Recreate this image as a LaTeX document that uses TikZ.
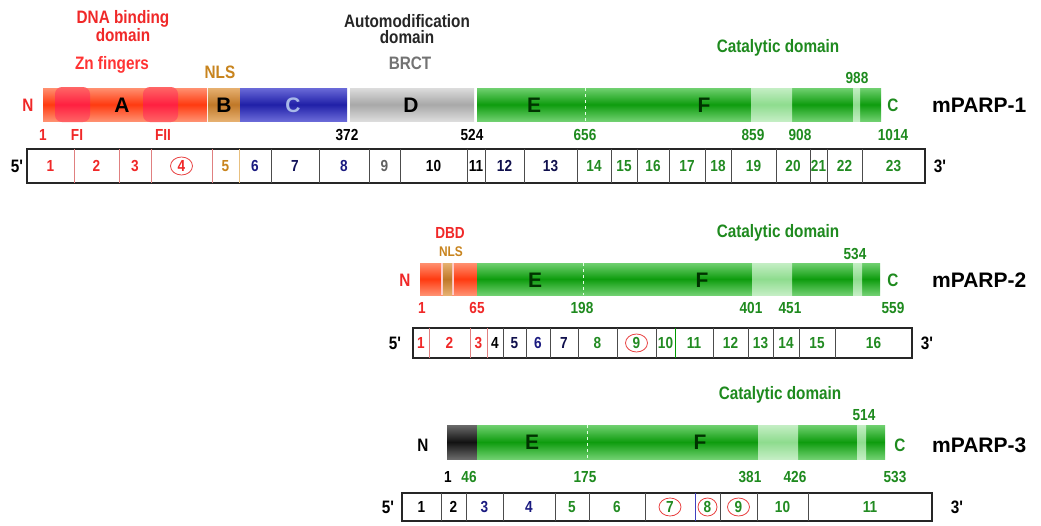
\documentclass[tikz,border=0pt]{standalone}
\usepackage{fontspec}
\setmainfont{Liberation Sans}
\newfontfamily\cond[FakeStretch=0.85]{Liberation Sans}
\usetikzlibrary{shapes.geometric}
\definecolor{gmid}{HTML}{0E9C0E}
\definecolor{gedge}{HTML}{70D070}
\definecolor{glmid}{HTML}{8EDC8E}
\definecolor{gledge}{HTML}{C4EEC4}
\definecolor{rmid}{HTML}{FF3A10}
\definecolor{redge}{HTML}{FF9070}
\definecolor{blobc}{HTML}{FF2040}
\definecolor{omid}{HTML}{C07828}
\definecolor{oedge}{HTML}{E6B070}
\definecolor{bmid}{HTML}{2020A8}
\definecolor{bedge}{HTML}{6A6AD8}
\definecolor{gymid}{HTML}{A8A8A8}
\definecolor{gyedge}{HTML}{DCDCDC}
\definecolor{kmid}{HTML}{121212}
\definecolor{kedge}{HTML}{6A6A6A}
\definecolor{numg}{HTML}{1E8A1E}
\definecolor{exred}{HTML}{F02828}
\definecolor{exor}{HTML}{C8841E}
\definecolor{exblue}{HTML}{1A1A80}
\definecolor{exgray}{HTML}{606060}
\definecolor{exgreen}{HTML}{228B22}
\definecolor{circred}{HTML}{E84040}
\definecolor{divred}{HTML}{E08080}
\definecolor{divor}{HTML}{E8C080}
\definecolor{lblue}{HTML}{A8B8E8}
\begin{document}
\begin{tikzpicture}[x=1pt,y=-1pt,
  tlab/.style={font=\fontsize{18}{18}\selectfont\bfseries\cond, inner sep=0pt},
  nlab/.style={font=\fontsize{16}{16}\selectfont\bfseries\cond, inner sep=0pt, text=numg},
  exlab/.style={font=\fontsize{16}{16}\selectfont\bfseries\cond, inner sep=0pt},
  biglab/.style={font=\fontsize{21}{21}\selectfont\bfseries, inner sep=0pt},
  plab/.style={font=\fontsize{21}{21}\selectfont\bfseries, inner sep=0pt, anchor=west},
  circ/.style={draw=circred, ellipse, line width=0.8pt, minimum width=22pt, minimum height=18pt, inner sep=0pt},
  gsh/.style={top color=gedge, bottom color=gedge, middle color=gmid},
  glsh/.style={top color=gledge, bottom color=gledge, middle color=glmid},
  rsh/.style={top color=redge, bottom color=redge, middle color=rmid},
  osh/.style={top color=oedge, bottom color=oedge, middle color=omid},
  bsh/.style={top color=bedge, bottom color=bedge, middle color=bmid},
  gysh/.style={top color=gyedge, bottom color=gyedge, middle color=gymid},
  ksh/.style={top color=kedge, bottom color=kedge, middle color=kmid},
  exbox/.style={line width=1.2pt, draw=black!85},
  divl/.style={line width=0.9pt, draw=black!70},
  dotl/.style={draw=white!90!green, dashed, line width=0.7pt}
]
\useasboundingbox[fill=white] (0,0) rectangle (1041,525);

%%%%%%%%%%%%%%%% mPARP-1
\node[tlab, text=exred] (t1a) at (123,19) {DNA binding};
\node[tlab, text=exred] (t1b) at (123,35) {domain};
\node[tlab, text=red!80!white] (t1c) at (112,65) {Zn fingers};
\node[tlab, text=exor] (t1d) at (220,72) {NLS};
\node[tlab, text=black!85] (t1e) at (407,21) {Automodification};
\node[tlab, text=black!85] (t1f) at (407,37) {domain};
\node[tlab, text=black!55] (t1g) at (410,63) {BRCT};
\node[tlab, text=numg] (t1h) at (778,48) {Catalytic domain};
\node[nlab] (t1i) at (857,78) {988};

\shade[rsh] (43,88) rectangle (207,121);
\shade[top color=red!60!white, bottom color=red!60!white, middle color=blobc, rounded corners=7pt] (55,87) rectangle (90,122);
\shade[top color=red!60!white, bottom color=red!60!white, middle color=blobc, rounded corners=7pt] (143,87) rectangle (178,122);
\shade[osh] (208,88) rectangle (240,121);
\shade[bsh] (240,88) rectangle (347,121);
\shade[gysh] (350,88) rectangle (474,121);
\shade[gsh] (477,88) rectangle (881,121);
\shade[glsh] (751,88) rectangle (792,121);
\shade[glsh] (853,88) rectangle (860,121);
\draw[dotl] (585,88) -- (585,121);
\node[biglab] (p1A) at (122,105) {A};
\node[biglab] (p1B) at (224,105) {B};
\node[biglab, text=lblue] (p1C) at (293,105) {C};
\node[biglab] (p1D) at (411,105) {D};
\node[biglab, text=black!80!green] (p1E) at (534,105) {E};
\node[biglab, text=black!80!green] (p1F) at (704,105) {F};
\node[tlab, text=exred] (p1N) at (28,105) {N};
\node[tlab, text=numg] (p1Cterm) at (893,105) {C};
\node[plab] (p1name) at (932,105) {mPARP-1};

\node[nlab, text=exred] (p1n1) at (43,135) {1};
\node[nlab, text=exred] (p1n2) at (77,135) {FI};
\node[nlab, text=exred] (p1n3) at (163,135) {FII};
\node[nlab, text=black] (p1n4) at (347,135) {372};
\node[nlab, text=black] (p1n5) at (472,135) {524};
\node[nlab] (p1n6) at (585,135) {656};
\node[nlab] (p1n7) at (753,135) {859};
\node[nlab] (p1n8) at (800,135) {908};
\node[nlab] (p1n9) at (893,135) {1014};

\draw[exbox] (27,149) rectangle (925,183);
\foreach \x in {74,119,151,212} \draw[divl, draw=divred] (\x,149) -- (\x,183);
\draw[divl, draw=divor] (239,149) -- (239,183);
\foreach \x in {271,319,369,400,467,485,524,577,611,637,669,705,731,776,810,827,862} \draw[divl] (\x,149) -- (\x,183);
\node[tlab] (p1five) at (17,166) {5'};
\node[tlab] (p1three) at (940,166) {3'};
\foreach \x/\t/\c in {50.5/1/exred,96.5/2/exred,135/3/exred,225.5/5/exor,255/6/exblue,295/7/exblue!70!black,344/8/exblue,384.5/9/exgray,433.5/10/black,476/11/black,504.5/12/exblue!60!black,550.5/13/exblue!60!black,594/14/exgreen,624/15/exgreen,653/16/exgreen,687/17/exgreen,718/18/exgreen,753.5/19/exgreen,793/20/exgreen,818.5/21/exgreen,844.5/22/exgreen,893.5/23/exgreen}
  \node[exlab, text=\c] (p1e\t) at (\x,166) {\t};
\node[exlab, text=exred, circ] (p1e4) at (181.5,166) {4};

%%%%%%%%%%%%%%%% mPARP-2
\node[tlab, text=exred, font=\fontsize{16}{16}\selectfont\bfseries\cond] (t2a) at (450,233) {DBD};
\node[tlab, text=exor, font=\fontsize{14}{14}\selectfont\bfseries\cond] (t2b) at (451,252) {NLS};
\node[tlab, text=numg] (t2c) at (778,233) {Catalytic domain};
\node[nlab] (t2d) at (855,254) {534};

\shade[rsh] (420,263) rectangle (477,295);
\fill[white!80!red] (441,263) rectangle (454,295);
\shade[osh] (443,263) rectangle (452,295);
\shade[gsh] (477,263) rectangle (880,295);
\shade[glsh] (752,263) rectangle (792,295);
\shade[glsh] (853,263) rectangle (862,295);
\draw[dotl] (583,263) -- (583,295);
\node[biglab, text=black!80!green] (p2E) at (535,280) {E};
\node[biglab, text=black!80!green] (p2F) at (702,280) {F};
\node[tlab, text=exred] (p2N) at (405,280) {N};
\node[tlab, text=numg] (p2Cterm) at (893,280) {C};
\node[plab] (p2name) at (932,280) {mPARP-2};

\node[nlab, text=exred] (p2n1) at (422,308) {1};
\node[nlab, text=exred] (p2n2) at (477,308) {65};
\node[nlab] (p2n3) at (582,308) {198};
\node[nlab] (p2n4) at (751,308) {401};
\node[nlab] (p2n5) at (790,308) {451};
\node[nlab] (p2n6) at (893,308) {559};

\draw[exbox] (413,328) rectangle (912,358);
\foreach \x in {429,470,487} \draw[divl, draw=divred] (\x,328) -- (\x,358);
\foreach \x in {503,526,550,578,617,656,713,748,773,799,835} \draw[divl] (\x,328) -- (\x,358);
\draw[divl, draw=green!60!black] (675,328) -- (675,358);
\node[tlab] (p2five) at (395,343) {5'};
\node[tlab] (p2three) at (927,343) {3'};
\foreach \x/\t/\c in {421/1/exred,449.5/2/exred,478.5/3/exred,495/4/black,514.5/5/exblue!60!black,538/6/exblue,564/7/exblue!60!black,597.5/8/exgreen,665.5/10/exgreen,694/11/exgreen,730.5/12/exgreen,760.5/13/exgreen,786/14/exgreen,817/15/exgreen,873.5/16/exgreen}
  \node[exlab, text=\c] (p2e\t) at (\x,343) {\t};
\node[exlab, text=exgreen, circ] (p2e9) at (636.5,343) {9};

%%%%%%%%%%%%%%%% mPARP-3
\node[tlab, text=numg] (t3a) at (780,395) {Catalytic domain};
\node[nlab] (t3b) at (864,415) {514};

\shade[ksh] (447,425) rectangle (477,459);
\shade[gsh] (477,425) rectangle (885,459);
\shade[glsh] (758,425) rectangle (798,459);
\shade[glsh] (857,425) rectangle (866,459);
\draw[dotl] (587,425) -- (587,459);
\node[biglab, text=black!80!green] (p3E) at (532,442) {E};
\node[biglab, text=black!80!green] (p3F) at (700,442) {F};
\node[tlab, text=black] (p3N) at (423,445) {N};
\node[tlab, text=numg] (p3Cterm) at (900,445) {C};
\node[plab] (p3name) at (932,445) {mPARP-3};

\node[nlab, text=black] (p3n1) at (448,477) {1};
\node[nlab] (p3n2) at (469,477) {46};
\node[nlab] (p3n3) at (585,477) {175};
\node[nlab] (p3n4) at (750,477) {381};
\node[nlab] (p3n5) at (795,477) {426};
\node[nlab] (p3n6) at (895,477) {533};

\draw[exbox] (402,493) rectangle (932,521);
\foreach \x in {441,466,503,555,589,645,720,757,808} \draw[divl] (\x,493) -- (\x,521);
\draw[divl, draw=blue!50!gray] (695,493) -- (695,521);
\node[tlab] (p3five) at (388,507) {5'};
\node[tlab] (p3three) at (957,507) {3'};
\foreach \x/\t/\c in {421.5/1/black,453.5/2/black,484.5/3/exblue,529/4/exblue,572/5/exgreen,617/6/exgreen,782.5/10/exgreen,870/11/exgreen}
  \node[exlab, text=\c] (p3e\t) at (\x,507) {\t};
\node[exlab, text=exgreen, circ] (p3e7) at (670,507) {7};
\node[exlab, text=exgreen, circ, minimum width=19pt] (p3e8) at (707.5,507) {8};
\node[exlab, text=exgreen, circ] (p3e9) at (738.5,507) {9};
\end{tikzpicture}
\end{document}
